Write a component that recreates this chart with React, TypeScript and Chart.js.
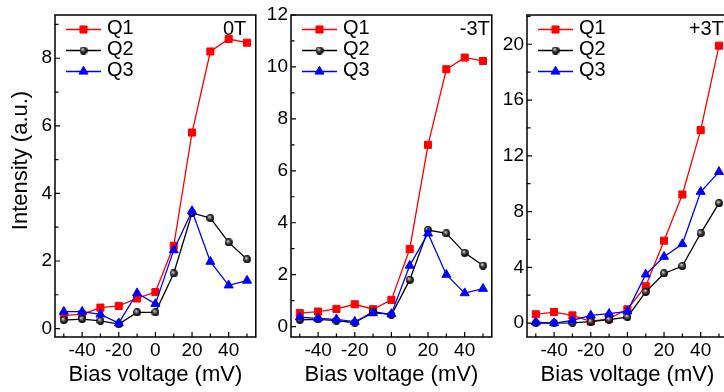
import React, { useEffect, useRef } from "react";
import { Chart, registerables } from "chart.js";

Chart.register(...registerables);

// ---------- data ----------
const biasVoltage = [-50, -40, -30, -20, -10, 0, 10, 20, 30, 40, 50];
const seriesNames = ["Q1", "Q2", "Q3"];
const panelLabels = ["0T", "-3T", "+3T"];
const xAxisTitle = "Bias voltage (mV)";
const yAxisTitle = "Intensity (a.u.)";

// 0T
const q1_0T = [0.39, 0.42, 0.62, 0.67, 0.89, 1.08, 2.45, 5.8, 8.2, 8.57, 8.46];
const q2_0T = [0.25, 0.28, 0.23, 0.13, 0.48, 0.48, 1.63, 3.42, 3.27, 2.55, 2.05];
const q3_0T = [0.5, 0.5, 0.42, 0.16, 1.05, 0.73, 2.32, 3.48, 1.98, 1.28, 1.42];

// -3T
const q1_m3T = [0.52, 0.58, 0.68, 0.86, 0.67, 1.03, 2.99, 7.0, 9.91, 10.36, 10.23];
const q2_m3T = [0.26, 0.28, 0.23, 0.15, 0.58, 0.45, 1.8, 3.72, 3.59, 2.84, 2.35];
const q3_m3T = [0.36, 0.32, 0.28, 0.19, 0.52, 0.49, 2.35, 3.59, 2.0, 1.29, 1.46];

// +3T
const q1_p3T = [0.63, 0.79, 0.55, 0.12, 0.31, 0.99, 2.64, 5.91, 9.22, 13.84, 19.9];
const q2_p3T = [0.0, 0.0, 0.02, 0.1, 0.24, 0.43, 2.24, 3.56, 4.09, 6.44, 8.6];
const q3_p3T = [0.07, 0.0, 0.19, 0.55, 0.67, 0.84, 3.49, 4.76, 5.67, 9.42, 10.85];

// y-axis ranges / ticks per panel
const yMins = [-0.25, -0.4, -1];
const yMaxs = [9.28, 12, 22.1];
const yMinorSteps = [1, 1, 2];
const yMajorSteps = [2, 2, 4];

// ---------- styling ----------
const FONT = "'Liberation Sans', Arial, Helvetica, sans-serif";
const RED = "#ff0000";
const BLACK = "#000000";
const BLUE = "#0000ff";

function makeSphere(): HTMLCanvasElement {
  const c = document.createElement("canvas");
  c.width = 8;
  c.height = 8;
  const g = c.getContext("2d")!;
  const grad = g.createRadialGradient(3.0, 2.6, 0.2, 4, 4, 4.2);
  grad.addColorStop(0, "#e8e8e8");
  grad.addColorStop(0.3, "#707070");
  grad.addColorStop(0.7, "#151515");
  grad.addColorStop(1, "#000000");
  g.fillStyle = grad;
  g.beginPath();
  g.arc(4, 4, 3.9, 0, Math.PI * 2);
  g.fill();
  return c;
}

function drawMarker(ctx: CanvasRenderingContext2D, ds: any, x: number, y: number) {
  const style = ds.pointStyle;
  ctx.save();
  ctx.fillStyle = ds.pointBackgroundColor;
  ctx.strokeStyle = ds.pointBorderColor;
  ctx.lineWidth = ds.pointBorderWidth || 1;
  if (style === "rect") {
    const s = Math.SQRT1_2 * ds.pointRadius;
    ctx.beginPath();
    ctx.rect(x - s, y - s, 2 * s, 2 * s);
    ctx.fill();
    ctx.stroke();
  } else if (style === "triangle") {
    const r = ds.pointRadius;
    ctx.beginPath();
    ctx.moveTo(x, y - r);
    ctx.lineTo(x + r * Math.sin(Math.PI * 2 / 3), y + r / 2);
    ctx.lineTo(x - r * Math.sin(Math.PI * 2 / 3), y + r / 2);
    ctx.closePath();
    ctx.fill();
    ctx.stroke();
  } else if (style && typeof style === "object") {
    ctx.drawImage(style, x - style.width / 2, y - style.height / 2);
  }
  ctx.restore();
}

const panelPlugin = {
  id: "panelDecor",
  afterDraw(chart: any, _args: any, opts: any) {
    const { ctx, chartArea: a, scales } = chart;
    const xs = scales.x;
    const ys = scales.y;
    ctx.save();
    // frame
    ctx.strokeStyle = "#000";
    ctx.lineWidth = 1.5;
    ctx.strokeRect(a.left, a.top, a.right - a.left, a.bottom - a.top);
    // inward ticks
    ctx.lineWidth = 1.2;
    ctx.beginPath();
    for (const t of xs.ticks) {
      const px = xs.getPixelForValue(t.value);
      const len = Math.abs(t.value % opts.xMajor) < 1e-9 ? 5 : 3.5;
      ctx.moveTo(px, a.bottom);
      ctx.lineTo(px, a.bottom - len);
    }
    for (const t of ys.ticks) {
      const py = ys.getPixelForValue(t.value);
      const len = Math.abs(t.value % opts.yMajor) < 1e-9 ? 5 : 3.5;
      ctx.moveTo(a.left, py);
      ctx.lineTo(a.left + len, py);
    }
    ctx.stroke();

    // legend inside plot area
    chart.data.datasets.forEach((ds: any, i: number) => {
      const ry = a.top + 14.5 + i * 21;
      ctx.strokeStyle = ds.borderColor;
      ctx.lineWidth = ds.borderWidth;
      ctx.beginPath();
      ctx.moveTo(a.left + 11, ry);
      ctx.lineTo(a.left + 46, ry);
      ctx.stroke();
      drawMarker(ctx, ds, a.left + 28.5, ry);
      ctx.fillStyle = "#000";
      ctx.font = `20px ${FONT}`;
      ctx.textAlign = "left";
      ctx.textBaseline = "alphabetic";
      ctx.fillText(ds.label, a.left + 52, ry + 4.5);
    });

    // panel label
    ctx.fillStyle = "#000";
    ctx.font = `20px ${FONT}`;
    ctx.textAlign = "right";
    ctx.textBaseline = "alphabetic";
    ctx.fillText(opts.label, a.right - opts.labelInset, opts.labelBaseline);

    // y title (first panel only)
    if (opts.yTitle) {
      ctx.save();
      ctx.translate(opts.yTitleX, opts.yTitleY);
      ctx.rotate(-Math.PI / 2);
      ctx.font = `22px ${FONT}`;
      ctx.textAlign = "center";
      ctx.textBaseline = "alphabetic";
      ctx.fillText(opts.yTitle, 0, 0);
      ctx.restore();
    }
    ctx.restore();
  },
};

interface PanelLayout {
  canvasLeft: number;
  canvasWidth: number;
  yAxisWidth: number;
  padRight: number;
  labelInset: number;
  labelBaseline: number;
}

const layouts: PanelLayout[] = [
  { canvasLeft: 0, canvasWidth: 262, yAxisWidth: 55, padRight: 6, labelInset: 9.5, labelBaseline: 34.5 },
  { canvasLeft: 262, canvasWidth: 236, yAxisWidth: 29, padRight: 6, labelInset: 2, labelBaseline: 34.5 },
  { canvasLeft: 494, canvasWidth: 240, yAxisWidth: 33, padRight: 6, labelInset: 4, labelBaseline: 35 },
];

const CANVAS_H = 392;

function buildChart(canvas: HTMLCanvasElement, idx: number, sphere: HTMLCanvasElement) {
  const series = [
    [q1_0T, q2_0T, q3_0T],
    [q1_m3T, q2_m3T, q3_m3T],
    [q1_p3T, q2_p3T, q3_p3T],
  ][idx];
  const L = layouts[idx];
  const colors = [RED, BLACK, BLUE];
  const styles: any[] = ["rect", sphere, "triangle"];
  const radii = [5, 4, 5.2];
  const orders = [3, 2, 1];

  const datasets = series.map((vals, s) => ({
    label: seriesNames[s],
    data: biasVoltage.map((x, i) => ({ x, y: vals[i] })),
    borderColor: colors[s],
    backgroundColor: colors[s],
    borderWidth: 1.3,
    pointStyle: styles[s],
    pointRadius: radii[s],
    pointBorderWidth: 1,
    pointBackgroundColor: colors[s],
    pointBorderColor: colors[s],
    tension: 0,
    order: orders[s],
  }));

  const yMajor = yMajorSteps[idx];

  return new Chart(canvas, {
    type: "line",
    data: { datasets },
    plugins: [panelPlugin],
    options: {
      responsive: false,
      animation: false,
      layout: { padding: { left: 0, top: 15, right: L.padRight, bottom: 0 } },
      plugins: {
        legend: { display: false },
        tooltip: { enabled: false },
        panelDecor: {
          label: panelLabels[idx],
          labelInset: L.labelInset,
          labelBaseline: L.labelBaseline,
          xMajor: 20,
          yMajor,
          yTitle: idx === 0 ? yAxisTitle : null,
          yTitleX: 26.7,
          yTitleY: 160.5,
        },
      } as any,
      scales: {
        x: {
          type: "linear",
          min: -54.8,
          max: 54.8,
          afterFit: (s: any) => {
            s.height = 55;
          },
          grid: { display: false, drawTicks: false },
          border: { display: false },
          ticks: {
            stepSize: 10,
            includeBounds: false,
            autoSkip: false,
            maxRotation: 0,
            minRotation: 0,
            padding: 2.5,
            color: "#000",
            font: { family: FONT, size: 19 },
            callback: (v: any) => (Math.abs(Number(v) % 20) < 1e-9 ? String(v) : ""),
          },
          title: {
            display: true,
            text: xAxisTitle,
            color: "#000",
            font: { family: FONT, size: 22 },
            padding: { top: 0, bottom: 4 },
          },
        },
        y: {
          type: "linear",
          min: yMins[idx],
          max: yMaxs[idx],
          afterFit: (s: any) => {
            s.width = L.yAxisWidth;
          },
          grid: { display: false, drawTicks: false },
          border: { display: false },
          ticks: {
            stepSize: yMinorSteps[idx],
            includeBounds: false,
            autoSkip: false,
            padding: 3,
            color: "#000",
            font: { family: FONT, size: 19 },
            callback: (v: any) => (Math.abs(Number(v) % yMajor) < 1e-9 ? String(v) : ""),
          },
        },
      },
    } as any,
  });
}

export default function App() {
  const r0 = useRef<HTMLCanvasElement>(null);
  const r1 = useRef<HTMLCanvasElement>(null);
  const r2 = useRef<HTMLCanvasElement>(null);

  useEffect(() => {
    const sphere = makeSphere();
    const refs = [r0, r1, r2];
    const charts = refs.map((r, i) => buildChart(r.current!, i, sphere));
    return () => charts.forEach((c) => c.destroy());
  }, []);

  const refs = [r0, r1, r2];
  return (
    <div
      style={{
        position: "fixed",
        left: 0,
        top: 0,
        width: 724,
        height: 392,
        overflow: "hidden",
        background: "#fff",
      }}
    >
      {layouts.map((L, i) => (
        <canvas
          key={i}
          ref={refs[i]}
          width={L.canvasWidth}
          height={CANVAS_H}
          style={{
            position: "absolute",
            left: L.canvasLeft,
            top: 0,
            width: L.canvasWidth,
            height: CANVAS_H,
            display: "block",
          }}
        />
      ))}
    </div>
  );
}
